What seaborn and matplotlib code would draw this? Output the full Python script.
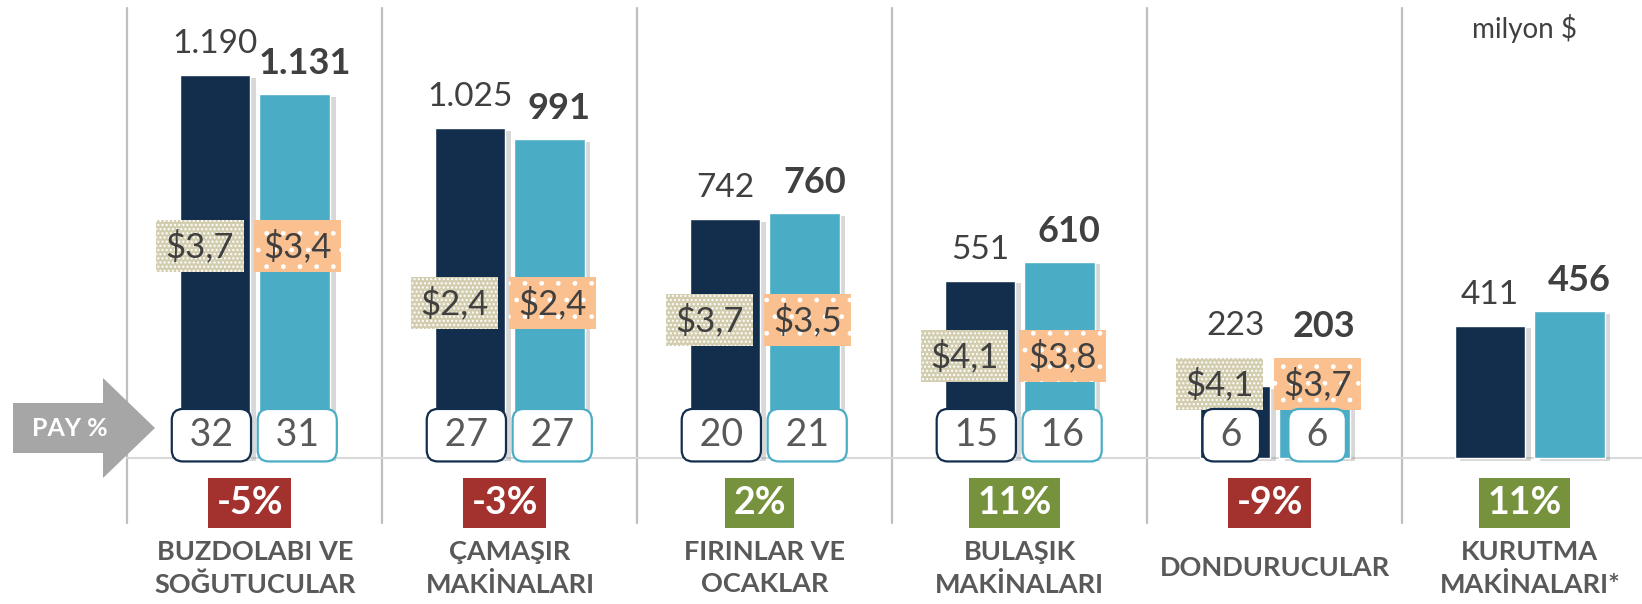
"""Beyaz esya pazari: kategori bazinda satis (milyon $), ortalama fiyat, pay ve degisim."""
import numpy as np
import pandas as pd
import matplotlib
matplotlib.use("Agg")
import matplotlib.pyplot as plt
import seaborn as sns
from matplotlib import patheffects as pe
from matplotlib.patches import Polygon

sns.set_theme(style="white")
plt.rcParams["font.family"] = ["Lato", "DejaVu Sans"]

# --- data ---
categories = ["BUZDOLABI VE\nSOĞUTUCULAR", "ÇAMAŞIR\nMAKİNALARI", "FIRINLAR VE\nOCAKLAR",
              "BULAŞIK\nMAKİNALARI", "DONDURUCULAR", "KURUTMA\nMAKİNALARI*"]
sales_prev = [1190, 1025, 742, 551, 223, 411]
sales_curr = [1131, 991, 760, 610, 203, 456]
price_prev = [3.7, 2.4, 3.7, 4.1, 4.1, None]
price_curr = [3.4, 2.4, 3.5, 3.8, 3.7, None]
share_prev = [32, 27, 20, 15, 6, None]
share_curr = [31, 27, 21, 16, 6, None]
change_pct = [-5, -3, 2, 11, -9, 11]

# layout only: height (data units) where the price tags sit
price_tag_y = [658, 481, 429, 317, 230, None]
TAG_HALF = 85  # half height of a price tag in data units

NAVY = "#132E4D"
TEAL = "#4BACC6"
GREY_TXT = "#595959"
DARK_TXT = "#404040"

df = pd.DataFrame({
    "cat": categories * 2,
    "period": ["prev"] * len(categories) + ["curr"] * len(categories),
    "value": sales_prev + sales_curr,
})

fig = plt.figure(figsize=(16.42, 6.04), dpi=100)
ax = fig.add_axes([0, 0, 1, 1])
sns.barplot(data=df, x="cat", y="value", hue="period", palette=[NAVY, TEAL],
            width=0.6235, gap=0.113, saturation=1, legend=False, ax=ax, zorder=3)
ax.set_xlim(-1.0, 5.44)
ax.set_ylim(-453, 1422)
ax.axis("off")

shadow = [pe.SimplePatchShadow(offset=(4, -2), shadow_rgbFace="#7F7F7F", alpha=0.3), pe.Normal()]
for bar in ax.patches:
    bar.set_path_effects(shadow)

# separators and baseline
for x in np.arange(len(categories)) - 0.5:
    ax.plot([x, x], [-202, 1397], color="#BFBFBF", lw=1.6, zorder=1)
ax.plot([-0.5, 5.44], [0, 0], color="#D9D9D9", lw=1.5, zorder=2)

prev_bars, curr_bars = ax.containers[0], ax.containers[1]
for i, cat in enumerate(categories):
    bp, bc = prev_bars[i], curr_bars[i]
    xp = bp.get_x() + bp.get_width() / 2
    xc = bc.get_x() + bc.get_width() / 2

    # sales labels sit above the bar, or above the price tag when that is higher
    floor = price_tag_y[i] + TAG_HALF if price_tag_y[i] is not None else 0
    ax.annotate(f"{sales_prev[i]:,}".replace(",", "."), (xp, max(sales_prev[i], floor)),
                xytext=(0, 22), textcoords="offset points", ha="center", va="center",
                fontsize=24, color=DARK_TXT, zorder=6)
    ax.annotate(f"{sales_curr[i]:,}".replace(",", "."), (xc, max(sales_curr[i], floor)),
                xytext=(7, 22), textcoords="offset points", ha="center", va="center",
                fontsize=26, fontweight="bold", color=DARK_TXT, zorder=6)

    # average price tags
    if price_prev[i] is not None:
        ax.text(xp - 0.06, price_tag_y[i], f"${price_prev[i]:.1f}".replace(".", ","),
                ha="center", va="center", fontsize=25, color=DARK_TXT, zorder=7,
                bbox=dict(boxstyle="square,pad=0.27", facecolor="#D3CDB0", edgecolor="white",
                          hatch="....", linewidth=0))
        ax.text(xc + 0.01, price_tag_y[i], f"${price_curr[i]:.1f}".replace(".", ","),
                ha="center", va="center", fontsize=25, color=DARK_TXT, zorder=7,
                bbox=dict(boxstyle="square,pad=0.27", facecolor="#FAC08F", edgecolor="white",
                          hatch=".", linewidth=0))

    # market share boxes
    if share_prev[i] is not None:
        ax.text(xp - 0.015, 71, f" {share_prev[i]} ", ha="center", va="center", fontsize=27,
                color=GREY_TXT, zorder=8,
                bbox=dict(boxstyle="round,pad=0.22,rounding_size=0.3", facecolor="white",
                          edgecolor=NAVY, linewidth=1.6))
        ax.text(xc + 0.01, 71, f" {share_curr[i]} ", ha="center", va="center", fontsize=27,
                color=GREY_TXT, zorder=8,
                bbox=dict(boxstyle="round,pad=0.22,rounding_size=0.3", facecolor="white",
                          edgecolor=TEAL, linewidth=1.6))

    # change boxes
    col = "#A3322E" if change_pct[i] < 0 else "#76923C"
    ax.text(i - 0.02, -140, f"{change_pct[i]}%", ha="center", va="center", fontsize=27,
            fontweight="bold", color="white", zorder=8,
            bbox=dict(boxstyle="square,pad=0.22", facecolor=col, edgecolor="none"))

    # category names
    ax.text(i, -342, cat, ha="center", va="center", fontsize=19.5, fontweight="bold",
            color=GREY_TXT, linespacing=1.4, zorder=5)

ax.text(4.98, 1332, "milyon $", ha="center", va="center", fontsize=20, color=DARK_TXT)

# "PAY %" arrow on the left
W, H = 1642, 604
arrow_px = [(13, 403), (103, 403), (103, 378), (155, 428), (103, 478), (103, 453), (13, 453)]
arrow = Polygon([(x / W, 1 - y / H) for x, y in arrow_px], closed=True,
                transform=fig.transFigure, facecolor="#A6A6A6", edgecolor="none")
fig.patches.append(arrow)
fig.text(70 / W, 1 - 428 / H, "PAY %", ha="center", va="center", fontsize=18,
         fontweight="bold", color="white")

fig.savefig("out.png", dpi=100)
